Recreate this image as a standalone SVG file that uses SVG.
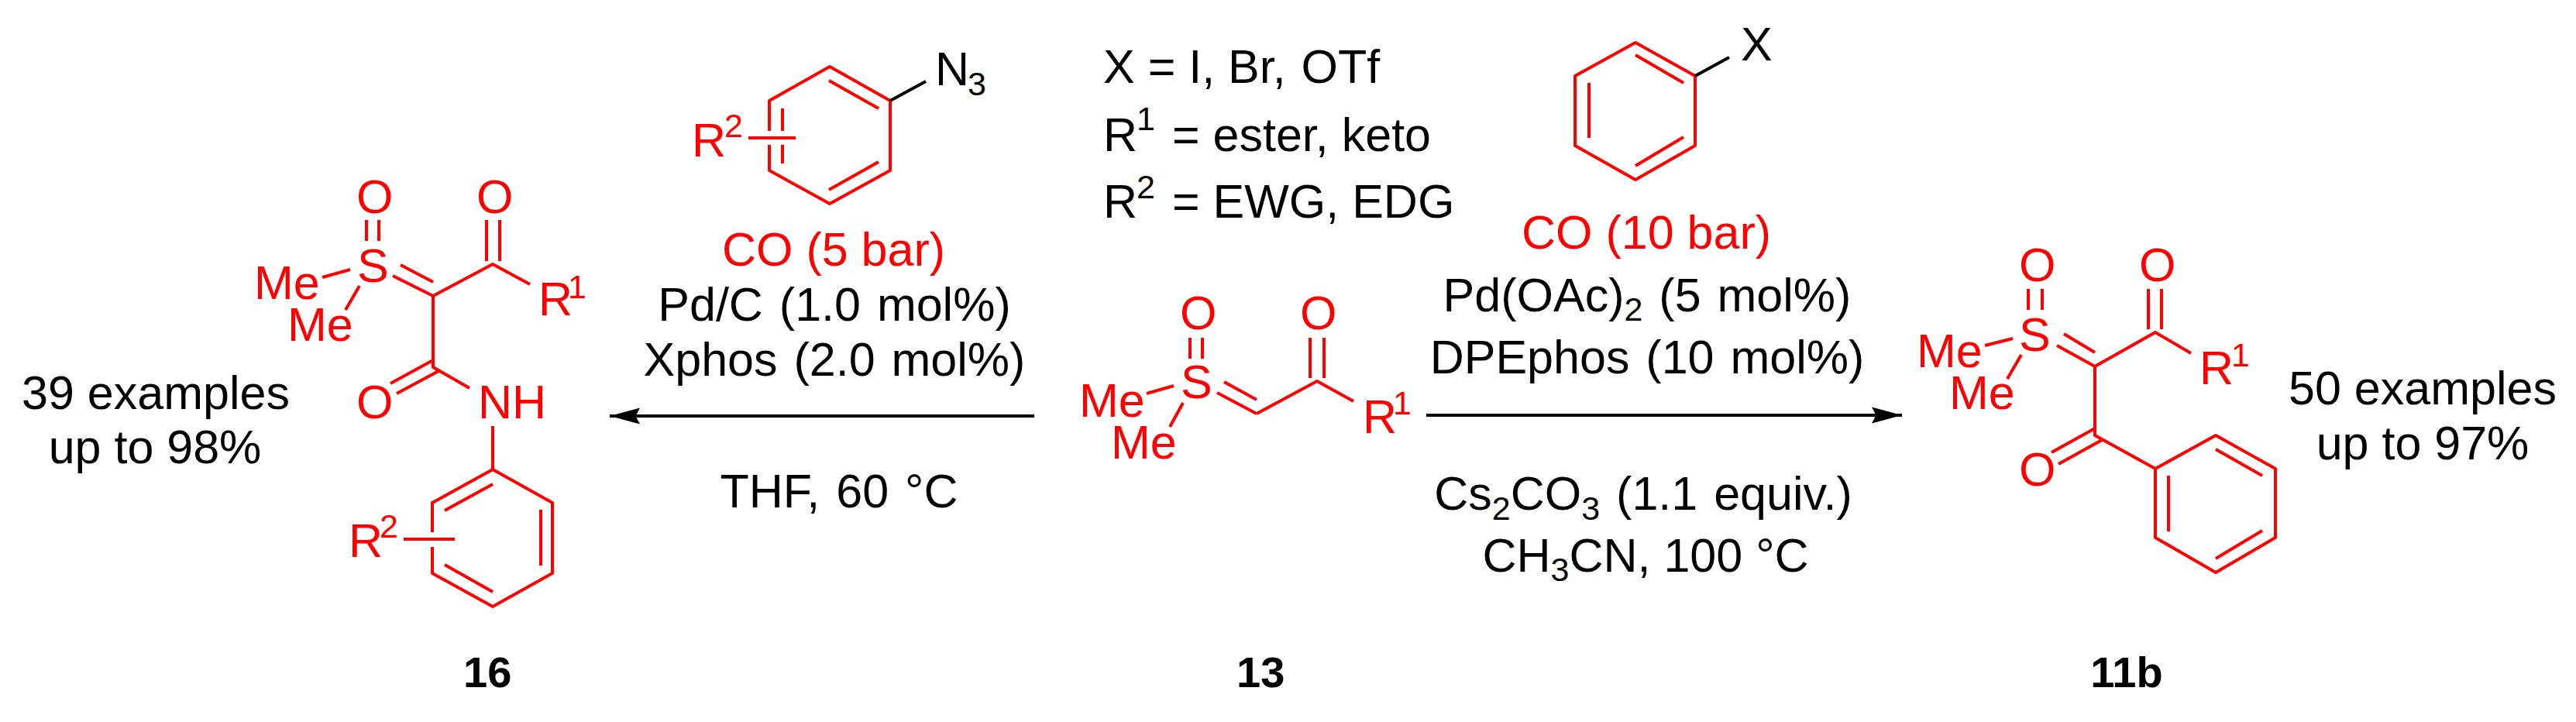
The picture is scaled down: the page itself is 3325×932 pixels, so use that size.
<svg xmlns="http://www.w3.org/2000/svg" width="3325" height="932" viewBox="0 0 3325 932">
<style>
text{font-family:"Liberation Sans",Arial,sans-serif;font-size:61px;fill:#000}
.r text{fill:#f00}
.s{font-size:43px}
.b{font-weight:bold;font-size:56px}
.m{text-anchor:middle}
.w{word-spacing:4px}
.red{fill:#f00}
.bond{fill:none;stroke:#f00;stroke-width:4;stroke-linejoin:round}
.blk{fill:none;stroke:#000;stroke-width:4}
.arrow{fill:none;stroke:#000;stroke-width:4}
</style>
<defs>
<marker id="head" markerUnits="userSpaceOnUse" markerWidth="42" markerHeight="26" refX="40" refY="13" orient="auto">
<path d="M40,13 L1,2.5 L6.5,13 L1,23.5 Z" fill="#000"/>
</marker>
</defs>
<rect width="3325" height="932" fill="#fff"/>
<g id="connectors">
<path class="arrow" d="M1335,537 H787" marker-end="url(#head)"/>
<path class="arrow" d="M1841,536 H2455" marker-end="url(#head)"/>
</g>
<g id="product-16" class="r">
<path class="bond" d="M473,284V311M489,284V311M416,358L452,348M464,369L446,400M507,356L559,382M517,342L559,364M559,382L636,341L684,367M628,284V337M645,284V337M559,382V474L606,501M559,465L504,495M566,479L512,508M636,550V606L713,649V740L636,783L558,740V706M558,687V649L636,606M574,659L636,625M698,658V730M574,729L636,764M521,696H587"/>
<text x="460" y="275">O</text>
<text x="615" y="275">O</text>
<text x="461" y="364">S</text>
<text x="328" y="386">Me</text>
<text x="371" y="440">Me</text>
<text x="695" y="407">R</text>
<text class="s" x="733" y="385">1</text>
<text x="460" y="540">O</text>
<text x="617" y="540">NH</text>
<text x="450" y="719">R</text>
<text class="s" x="490" y="694">2</text>
</g>
<g id="label-16">
<text class="b" x="598" y="887">16</text>
<text class="m" x="201" y="528">39 examples</text>
<text class="m" x="200" y="598">up to 98%</text>
</g>
<g id="reagent-azide">
<path class="bond" d="M1149,130L1071,86L993,130V169M993,187V220L1071,263L1149,220V130M1070,104L1134,140M1070,245L1134,209M1010,140V169M1010,187V211M966,178H1027"/>
<path class="blk" d="M1149,130L1195,105"/>
<text x="1207" y="110">N</text>
<text class="s" x="1249" y="123">3</text>
<g class="r">
<text x="893" y="202">R</text>
<text class="s" x="935" y="177">2</text>
</g>
</g>
<g id="conditions-left">
<text class="m red" x="1076" y="343" style="fill:#f00">CO (5 bar)</text>
<text class="m w" x="1077" y="414">Pd/C (1.0 mol%)</text>
<text class="m w" x="1077" y="485">Xphos (2.0 mol%)</text>
<text class="m w" x="1083" y="655">THF, 60 °C</text>
</g>
<g id="legend">
<text x="1424" y="107">X = I, Br, <tspan dx="3">OTf</tspan></text>
<text x="1424" y="195">R</text>
<text class="s" x="1467" y="168">1</text>
<text x="1513" y="195">= ester, keto</text>
<text x="1424" y="281">R</text>
<text class="s" x="1467" y="256">2</text>
<text x="1513" y="281">= EWG, EDG</text>
</g>
<g id="substrate-13" class="r">
<path class="bond" d="M1536,436V463M1552,436V463M1480,508L1515,498M1527,520L1510,551M1571,507L1622,534M1580,493L1622,516M1622,534L1700,492L1747,518M1691,436V488M1709,436V488"/>
<text x="1523" y="425">O</text>
<text x="1678" y="425">O</text>
<text x="1524" y="514">S</text>
<text x="1393" y="538">Me</text>
<text x="1434" y="592">Me</text>
<text x="1759" y="559">R</text>
<text class="s" x="1798" y="535">1</text>
</g>
<g id="label-13">
<text class="b" x="1596" y="887">13</text>
</g>
<g id="reagent-aryl-halide">
<path class="bond" d="M2188,98L2111,55L2033,98V188L2111,232L2188,188V98M2111,71L2173,107M2051,107V178M2111,214L2173,177"/>
<path class="blk" d="M2188,98L2232,74"/>
<text x="2247" y="78">X</text>
</g>
<g id="conditions-right">
<text class="m" x="2125" y="321" style="fill:#f00">CO (10 bar)</text>
<text class="m w" x="2126" y="402">Pd(OAc)<tspan class="s" dy="12">2</tspan><tspan dy="-12"> (5 mol%)</tspan></text>
<text class="m w" x="2126" y="482">DPEphos (10 mol%)</text>
<text class="m w" x="2121" y="658">Cs<tspan class="s" dy="13">2</tspan><tspan dy="-13">CO</tspan><tspan class="s" dy="13">3</tspan><tspan dy="-13"> (1.1 equiv.)</tspan></text>
<text class="m" x="2124" y="738">CH<tspan class="s" dy="12">3</tspan><tspan dy="-12">CN, 100 °C</tspan></text>
</g>
<g id="product-11b" class="r">
<path class="bond" d="M2618,373V400M2636,373V400M2562,446L2598,437M2609,458L2591,489M2655,446L2704,473M2664,431L2704,455M2704,473L2782,429L2828,456M2773,373V425M2790,373V425M2704,473V562L2782,605M2704,553L2648,584M2713,568L2657,599M2782,605L2860,562L2937,605V694L2860,739L2782,694V605M2860,580L2920,614M2799,614V686M2860,721L2920,685"/>
<text x="2606" y="363">O</text>
<text x="2761" y="363">O</text>
<text x="2606" y="453">S</text>
<text x="2474" y="474">Me</text>
<text x="2516" y="528">Me</text>
<text x="2839" y="496">R</text>
<text class="s" x="2880" y="473">1</text>
<text x="2606" y="627">O</text>
</g>
<g id="label-11b">
<text class="b m" x="2745" y="887">11b</text>
<text class="m" x="3127" y="522">50 examples</text>
<text class="m" x="3127" y="593">up to 97%</text>
</g>
</svg>
